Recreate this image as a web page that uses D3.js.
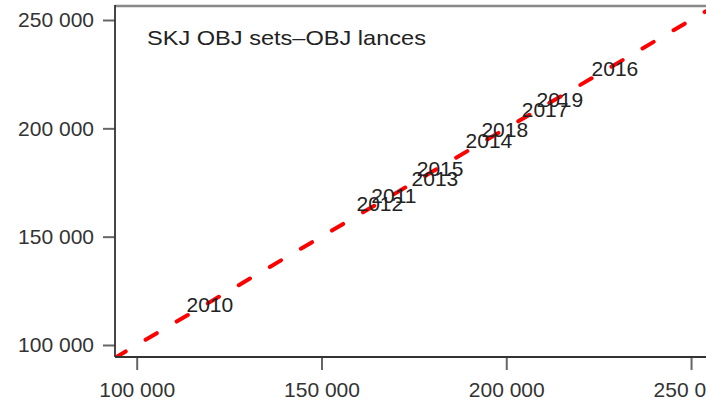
<!DOCTYPE html>
<html>
<head>
<meta charset="utf-8">
<script src="https://cdn.jsdelivr.net/npm/d3@7"></script>
<style>
  html, body { margin: 0; padding: 0; background: #fff; }
  svg { display: block; }
  text { font-family: "Liberation Sans", Arial, sans-serif; }
</style>
</head>
<body>
<svg id="chart" width="706" height="402"></svg>
<script>
// Data
const years = ["2010","2011","2012","2013","2014","2015","2016","2017","2018","2019"];
const objSets = [119800, 169600, 165800, 180700, 195300, 182100, 229400, 210500, 199600, 214500];
const objLances = [118900, 169200, 165500, 177100, 194600, 181700, 227800, 208900, 199700, 213500];
const tickValues = [100000, 150000, 200000, 250000];
const titleText = "SKJ OBJ sets\u2013OBJ lances";

const W = 706, H = 402;
const mLeft = 115, mRight = 712, mTop = 7, mBottom = 357;

const svg = d3.select("#chart");
const loc = d3.formatLocale({decimal: ".", thousands: " ", grouping: [3], currency: ["", ""]});
const fmt = loc.format(",d");

const x = d3.scaleLinear().domain([94130, 255670]).range([mLeft, mRight]);
const y = d3.scaleLinear().domain([94460, 256000]).range([mBottom, mTop]);

svg.append("defs").append("clipPath").attr("id", "plotclip")
  .append("rect").attr("x", mLeft).attr("y", mTop).attr("width", mRight - mLeft).attr("height", mBottom - mTop);

// 1:1 dashed line
const lineDomain = [94000, 260000];
svg.append("g").attr("clip-path", "url(#plotclip)")
  .append("path")
  .datum(lineDomain)
  .attr("d", d3.line().x(d => x(d)).y(d => y(d)))
  .attr("fill", "none")
  .attr("stroke", "#ff0000")
  .attr("stroke-width", 4)
  .attr("stroke-linecap", "round")
  .attr("stroke-dasharray", "13 23");

// Year labels
svg.append("g").selectAll("text")
  .data(years)
  .join("text")
  .attr("x", (d, i) => x(objSets[i]))
  .attr("y", (d, i) => y(objLances[i]))
  .attr("text-anchor", "middle")
  .attr("dy", "0.36em")
  .attr("font-size", 21)
  .attr("fill", "#222")
  .text(d => d);

// Axes
const yAxis = d3.axisLeft(y).tickValues(tickValues).tickFormat(fmt).tickSize(12).tickPadding(9);
const gy = svg.append("g").attr("transform", `translate(${mLeft},0)`).call(yAxis);
const xAxis = d3.axisBottom(x).tickValues(tickValues).tickFormat(fmt).tickSize(13).tickPadding(12);
const gx = svg.append("g").attr("transform", `translate(0,${mBottom})`).call(xAxis);
[gx, gy].forEach(g => {
  g.select(".domain").remove();
  g.selectAll(".tick line").attr("stroke", "#666").attr("stroke-width", 2);
  g.selectAll(".tick text").attr("font-size", 21).attr("fill", "#333")
    .style("font-family", "'Liberation Sans', Arial, sans-serif");
});

// Box lines
svg.append("line").attr("x1", mLeft).attr("x2", W + 10).attr("y1", mTop - 1).attr("y2", mTop - 1)
  .attr("stroke", "#888").attr("stroke-width", 2.5);
svg.append("line").attr("x1", mLeft).attr("x2", mLeft).attr("y1", mTop - 2).attr("y2", mBottom)
  .attr("stroke", "#333").attr("stroke-width", 1.8);
svg.append("line").attr("x1", mLeft).attr("x2", W + 10).attr("y1", mBottom).attr("y2", mBottom)
  .attr("stroke", "#333").attr("stroke-width", 1.8);

// Title
svg.append("text")
  .attr("x", 147).attr("y", 45)
  .attr("font-size", 21)
  .attr("fill", "#222")
  .attr("textLength", 279)
  .attr("lengthAdjust", "spacingAndGlyphs")
  .text(titleText);
</script>
</body>
</html>
